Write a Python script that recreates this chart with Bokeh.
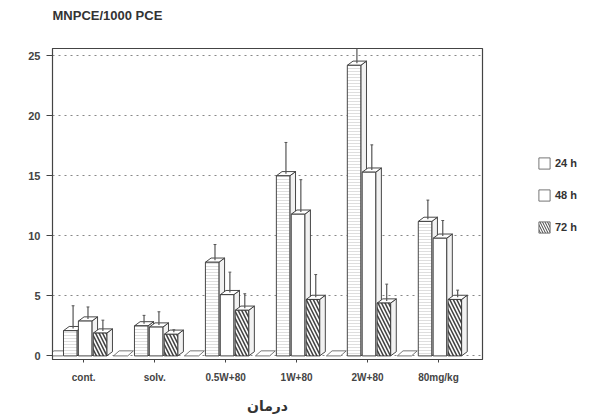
from bokeh.plotting import figure
from bokeh.layouts import row
from bokeh.models import FixedTicker, Legend, LegendItem, ColumnDataSource, Title
from bokeh.embed import file_html
from bokeh.resources import INLINE

categories = ["cont.", "solv.", "0.5W+80", "1W+80", "2W+80", "80mg/kg"]
series_names = ["24 h", "48 h", "72 h"]
h24 = [2.1, 2.5, 7.8, 15.0, 24.2, 11.2]
h48 = [2.9, 2.4, 5.1, 11.8, 15.3, 9.8]
h72 = [1.9, 1.8, 3.8, 4.7, 4.4, 4.7]
err24 = [1.9, 0.7, 1.3, 2.6, 1.3, 1.6]
err48 = [1.0, 1.1, 1.7, 2.7, 2.1, 1.3]
err72 = [0.9, 0.2, 1.2, 1.9, 1.4, 0.6]
y_ticks = [0, 5, 10, 15, 20, 25]

H = 416
p = figure(width=484, height=H, output_backend="svg", toolbar_location=None,
           x_range=(0.06, 6.12), y_range=(-0.3, 25.6),
           min_border_left=52, min_border_right=2, min_border_top=46, min_border_bottom=56)
p.background_fill_color = "white"
p.border_fill_color = "white"
p.outline_line_color = "#444444"
p.outline_line_width = 1.2

# main title, with an invisible spacer title between it and the frame
p.title.text = "MNPCE/1000 PCE"
p.title.text_font = "Liberation Sans"
p.title.text_font_style = "bold"
p.title.text_font_size = "13px"
p.title.text_color = "#333333"
p.title.align = "left"
p.add_layout(Title(text=".", text_color="white", text_font_size="12px"), "above")

xs = [i + 0.5 for i in range(len(categories))]
offsets = [-0.19, 0.02, 0.23]
width = 0.19
dx = 0.08
dy = 0.35

# flat floor slabs between groups
slab_x = [xs[0] - 0.4] + [x + 0.52 for x in xs[:-1]]
p.patches([[c - 0.1, c + 0.1, c + 0.1 + dx, c - 0.1 + dx] for c in slab_x],
          [[0, 0, dy * 1.2, dy * 1.2] for _ in slab_x], fill_color="white", line_color="#555555", line_width=0.8)

styles = [
    dict(fill_color="white", hatch_pattern="horizontal_line", hatch_color="#c8c8c8", hatch_scale=3, hatch_weight=0.6),
    dict(fill_color="white"),
    dict(fill_color="white", hatch_pattern="\\", hatch_color="#444444", hatch_scale=7, hatch_weight=1.6),
]
for vals, errs, off, st in zip([h24, h48, h72], [err24, err48, err72], offsets, styles):
    cx = [x + off for x in xs]
    side_xs = [[c + width / 2, c + width / 2 + dx, c + width / 2 + dx, c + width / 2] for c in cx]
    side_ys = [[0, dy, v + dy, v] for v in vals]
    p.patches(side_xs, side_ys, fill_color="#f2f2f2", line_color="#333333", line_width=0.9)
    top_xs = [[c - width / 2, c + width / 2, c + width / 2 + dx, c - width / 2 + dx] for c in cx]
    top_ys = [[v, v, v + dy, v + dy] for v in vals]
    p.patches(top_xs, top_ys, fill_color="white", line_color="#333333", line_width=0.9)
    p.vbar(x=cx, top=vals, bottom=0, width=width, line_color="#333333", line_width=0.9, **st)
    ex = [c + dx / 2 for c in cx]
    etop = [v + e + dy / 2 for v, e in zip(vals, errs)]
    ebot = [v + dy / 2 for v in vals]
    p.segment(x0=ex, y0=ebot, x1=ex, y1=etop, line_color="#555555", line_width=1.2)
    p.segment(x0=[e - 0.02 for e in ex], y0=etop, x1=[e + 0.02 for e in ex], y1=etop,
              line_color="#555555", line_width=1.0)

p.xaxis.ticker = FixedTicker(ticks=xs)
p.xaxis.major_label_overrides = {x: c for x, c in zip(xs, categories)}
p.yaxis.ticker = FixedTicker(ticks=y_ticks)
p.xgrid.visible = False
p.ygrid.grid_line_color = "#888888"
p.ygrid.grid_line_dash = "2 4"
p.ygrid.grid_line_width = 1

for ax in (p.xaxis[0], p.yaxis[0]):
    ax.axis_line_color = "#444444"
    ax.major_tick_line_color = "#444444"
    ax.minor_tick_line_color = None
    ax.major_tick_out = 6
    ax.major_tick_in = 0
    ax.major_label_text_font = "Liberation Sans"
    ax.major_label_text_font_style = "bold"
    ax.major_label_text_color = "#444444"
    ax.major_label_text_font_size = "11px"
p.yaxis.major_label_standoff = 6

p.xaxis.major_label_text_font_size = "10px"
p.xaxis.major_tick_out = 3
p.xaxis.major_label_standoff = 9
p.xaxis.axis_label = "درمان"
p.xaxis.axis_label_text_font = "DejaVu Sans"
p.xaxis.axis_label_text_font_style = "bold"
p.xaxis.axis_label_text_font_size = "14px"
p.xaxis.axis_label_text_color = "#333333"
p.xaxis.axis_label_standoff = 12

# legend panel
q = figure(width=106, height=H, output_backend="svg", toolbar_location=None,
           x_range=(0, 1), y_range=(0, 1), min_border=0)
q.outline_line_color = None
q.axis.visible = False
q.grid.visible = False
offscreen = ColumnDataSource(data=dict(x=[5.0], top=[5.0]))
items = []
for name, st in zip(series_names, styles):
    st2 = dict(fill_color="white") if st.get("hatch_pattern") == "horizontal_line" else dict(st)
    if "hatch_scale" in st2:
        st2["hatch_scale"] = 5
        st2["hatch_weight"] = 1.0
    r = q.vbar(x="x", top="top", width=0.1, source=offscreen, line_color="#666666", line_width=0.9, **st2)
    items.append(LegendItem(label=name, renderers=[r]))
legend = Legend(items=items, location=(53, 125), orientation="vertical")
legend.border_line_color = None
legend.background_fill_alpha = 0
legend.padding = 0
legend.margin = 0
legend.spacing = 18
legend.glyph_width = 14
legend.glyph_height = 14
legend.label_height = 14
legend.label_standoff = 4
legend.label_text_font = "Liberation Sans"
legend.label_text_font_style = "bold"
legend.label_text_font_size = "11px"
legend.label_text_color = "#333333"
q.add_layout(legend, "center")

layout = row(p, q, spacing=0)
open("out.html", "w").write(file_html(layout, INLINE))
